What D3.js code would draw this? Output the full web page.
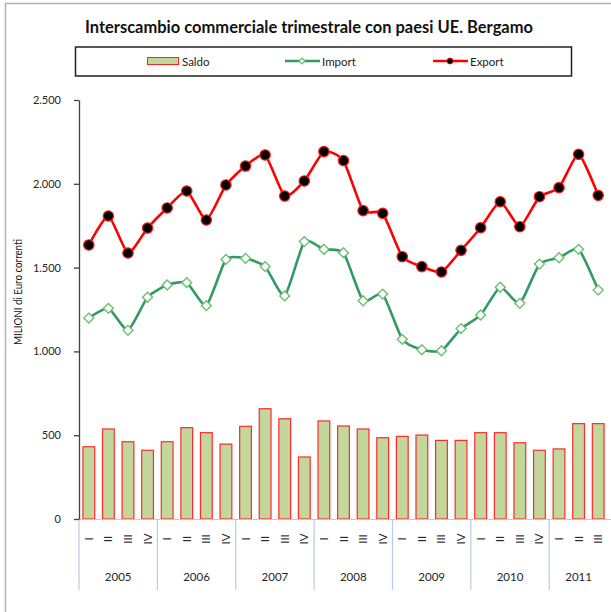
<!DOCTYPE html>
<html lang="it">
<head>
<meta charset="UTF-8">
<title>Interscambio commerciale trimestrale</title>
<script src="https://d3js.org/d3.v7.min.js"></script>
<style>
    body { margin: 0; background: #fff; }
    svg { display: block; font-family: Lato, "Open Sans", sans-serif; }
    .tick text { font-size: 11px; fill: #262626; }
</style>
</head>
<body>
<svg width="611" height="612"></svg>
<script>
    // dati (milioni di euro)
    const quarters = ["I", "II", "III", "IV"];
    const years = ["2005", "2006", "2007", "2008", "2009", "2010", "2011"];
    const quartersPerYear = [4, 4, 4, 4, 4, 4, 3];
    const saldo = [431, 537, 461, 410, 461, 545, 515, 447, 553, 658, 598, 370,
        585, 555, 537, 485, 493, 501, 469, 469, 515, 515, 455, 410, 418, 569, 569];
    const importVals = [1199, 1257, 1126, 1323, 1396, 1410, 1273, 1549, 1555, 1506, 1331, 1655,
        1609, 1589, 1302, 1342, 1072, 1010, 1004, 1136, 1217, 1383, 1287, 1521, 1559, 1609, 1366];
    const exportVals = [1635, 1808, 1587, 1736, 1856, 1957, 1784, 1993, 2106, 2172, 1927, 2017,
        2192, 2138, 1840, 1824, 1565, 1506, 1474, 1603, 1738, 1893, 1744, 1923, 1977, 2176, 1931];
    const yTicks = [0, 500, 1000, 1500, 2000, 2500];

    const svg = d3.select("svg");
    const plotLeft = 79, plotRight = 608, plotTop = 100, plotBottom = 519;

    // labels per trimestre
    let labels = [];
    years.forEach(function (yr, i) {
        for (let q = 0; q < quartersPerYear[i]; q++) labels.push(quarters[q]);
    });
    const idx = d3.range(labels.length);

    const x = d3.scaleBand().domain(idx).range([plotLeft, plotRight])
        .paddingInner(0.4).paddingOuter(0.2);
    const step = x.step();
    const cx = function (i) { return x(i) + x.bandwidth() / 2; };
    const y = d3.scaleLinear().domain([0, 2500]).range([plotBottom, plotTop]);

    const it = d3.formatLocale({ decimal: ",", thousands: ".", grouping: [3], currency: ["", "€"] });

    // cornice esterna
    svg.append("rect")
        .attr("x", 5.5).attr("y", 3.5).attr("width", 640).attr("height", 640)
        .attr("fill", "none").attr("stroke", "#b3b3b3").attr("stroke-width", 1.5);

    svg.append("text")
        .attr("x", 309).attr("y", 33)
        .attr("text-anchor", "middle")
        .attr("font-size", 16.5).attr("font-weight", "bold").attr("fill", "#111")
        .attr("textLength", 448).attr("lengthAdjust", "spacingAndGlyphs")
        .text("Interscambio commerciale trimestrale con paesi UE. Bergamo");

    // legenda
    const lg = svg.append("g");
    lg.append("rect").attr("x", 75.5).attr("y", 47).attr("width", 496).attr("height", 29)
        .attr("fill", "#fff").attr("stroke", "#222").attr("stroke-width", 1.5);
    lg.append("rect").attr("x", 147.5).attr("y", 57.5).attr("width", 31).attr("height", 7)
        .attr("fill", "#c3d69b").attr("stroke", "#ff2020").attr("stroke-width", 1);
    lg.append("text").attr("x", 182).attr("y", 66).attr("font-size", 11.5).attr("fill", "#222").text("Saldo");
    lg.append("line").attr("x1", 285).attr("x2", 320).attr("y1", 61).attr("y2", 61)
        .attr("stroke", "#339966").attr("stroke-width", 2.5);
    lg.append("path").attr("d", d3.symbol(d3.symbolDiamond2, 22)())
        .attr("transform", "translate(302,61)")
        .attr("fill", "#fff").attr("stroke", "#6cc06c").attr("stroke-width", 1.3);
    lg.append("text").attr("x", 322).attr("y", 66).attr("font-size", 11.5).attr("fill", "#222").text("Import");
    lg.append("line").attr("x1", 433).attr("x2", 468).attr("y1", 61).attr("y2", 61)
        .attr("stroke", "#ff0000").attr("stroke-width", 2.5);
    lg.append("circle").attr("cx", 450).attr("cy", 61).attr("r", 3)
        .attr("fill", "#000").attr("stroke", "#ff0000").attr("stroke-width", 0.8);
    lg.append("text").attr("x", 470).attr("y", 66).attr("font-size", 11.5).attr("fill", "#222").text("Export");

    // barre saldo
    svg.append("g").selectAll("rect")
        .data(saldo)
        .enter()
        .append("rect")
        .attr("x", function (d, i) { return x(i); })
        .attr("y", function (d) { return y(d); })
        .attr("width", x.bandwidth())
        .attr("height", function (d) { return y(0) - y(d); })
        .attr("fill", "#c3d69b")
        .attr("stroke", "#ff2a2a")
        .attr("stroke-width", 1.2);

    // asse categorie
    const cat = svg.append("g");
    cat.append("line").attr("x1", plotLeft).attr("x2", plotRight + 3)
        .attr("y1", plotBottom + 0.5).attr("y2", plotBottom + 0.5)
        .attr("stroke", "#b8cce4").attr("stroke-width", 1.2);
    let start = 0;
    years.forEach(function (yr, i) {
        const x0 = plotLeft + start * step;
        const x1 = plotLeft + (start + quartersPerYear[i]) * step;
        cat.append("line").attr("x1", x0).attr("x2", x0).attr("y1", plotBottom).attr("y2", 590)
            .attr("stroke", "#b8cce4").attr("stroke-width", 1.2);
        cat.append("text").attr("x", (x0 + x1) / 2).attr("y", 581)
            .attr("text-anchor", "middle").attr("font-size", 11.5).attr("fill", "#262626")
            .text(yr);
        start += quartersPerYear[i];
    });
    cat.selectAll("text.q")
        .data(labels)
        .enter()
        .append("text")
        .attr("class", "q")
        .attr("transform", function (d, i) { return "translate(" + (cx(i) + 4) + ",539) rotate(-90)"; })
        .attr("text-anchor", "middle")
        .attr("font-size", 11.5).attr("fill", "#262626")
        .text(function (d) { return d; });

    // asse y
    const yAxis = svg.append("g")
        .attr("transform", "translate(" + plotLeft + ",0)")
        .call(d3.axisLeft(y).tickValues(yTicks).tickSize(5).tickSizeOuter(0).tickPadding(13)
            .tickFormat(it.format(",")));
    yAxis.select(".domain").attr("stroke", "#404040").attr("stroke-width", 1.3);
    yAxis.selectAll(".tick line").attr("stroke", "#404040").attr("stroke-width", 1.3);
    yAxis.selectAll(".tick text").attr("font-family", "Lato, sans-serif");

    svg.append("text")
        .attr("transform", "translate(22,292) rotate(-90)")
        .attr("text-anchor", "middle").attr("font-size", 11.5).attr("fill", "#111")
        .attr("textLength", 106).attr("lengthAdjust", "spacingAndGlyphs")
        .text("MILIONI di Euro correnti");

    // linee
    const line = d3.line()
        .x(function (d, i) { return cx(i); })
        .y(function (d) { return y(d); })
        .curve(d3.curveCardinal.tension(0.45));

    svg.append("path").datum(importVals)
        .attr("d", line).attr("fill", "none")
        .attr("stroke", "#339966").attr("stroke-width", 2.6);
    svg.append("g").selectAll("path")
        .data(importVals)
        .enter()
        .append("path")
        .attr("d", d3.symbol(d3.symbolDiamond2, 62)())
        .attr("transform", function (d, i) { return "translate(" + cx(i) + "," + y(d) + ")"; })
        .attr("fill", "#fff").attr("stroke", "#6cc06c").attr("stroke-width", 1.4);

    svg.append("path").datum(exportVals)
        .attr("d", line).attr("fill", "none")
        .attr("stroke", "#ff0000").attr("stroke-width", 2.6);
    svg.append("g").selectAll("circle")
        .data(exportVals)
        .enter()
        .append("circle")
        .attr("cx", function (d, i) { return cx(i); })
        .attr("cy", function (d) { return y(d); })
        .attr("r", 5.2)
        .attr("fill", "#000").attr("stroke", "#ff1a1a").attr("stroke-width", 1.2);
</script>
</body>
</html>
